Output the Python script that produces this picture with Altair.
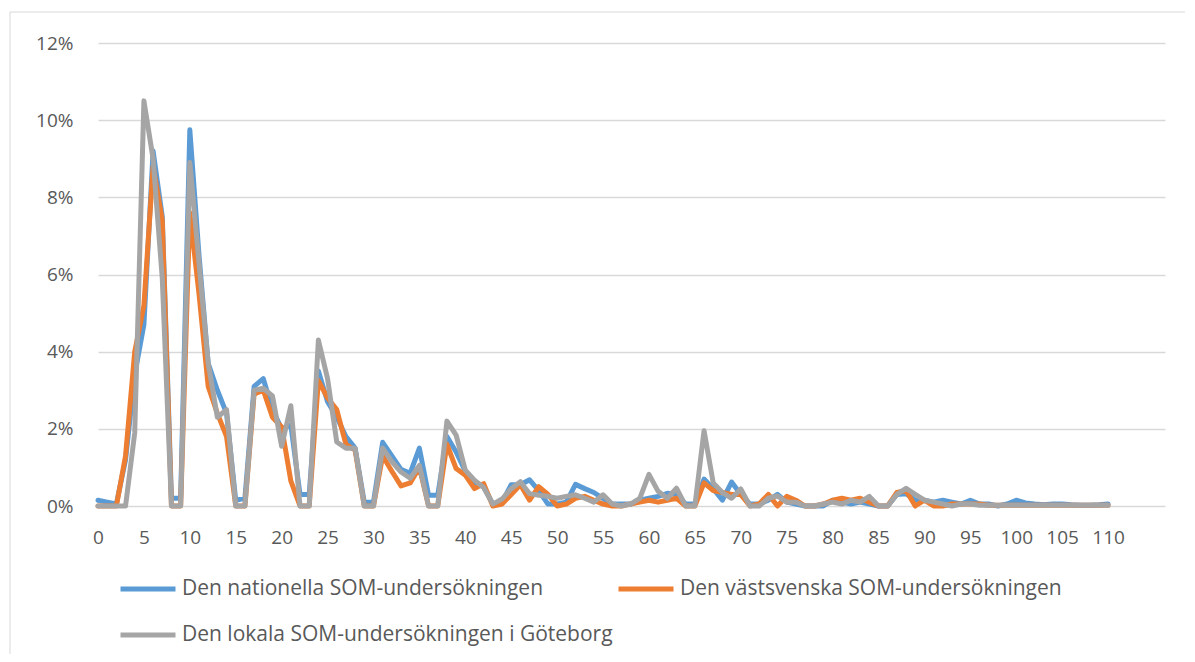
import altair as alt
import pandas as pd

series_names = [
    "Den nationella SOM-undersökningen",
    "Den västsvenska SOM-undersökningen",
    "Den lokala SOM-undersökningen i Göteborg",
]
series_colors = ["#5B9BD5", "#ED7D31", "#A5A5A5"]

x_values = list(range(0, 111))
x_tick_values = list(range(0, 111, 5))
y_tick_values = [0, 0.02, 0.04, 0.06, 0.08, 0.10, 0.12]

# percent values
national = [
    0.15, 0.1, 0.05, 1.2, 3.4, 4.7, 9.2, 7.5, 0.2, 0.2,
    9.75, 6.5, 3.7, 3.0, 2.4, 0.15, 0.2, 3.1, 3.3, 2.5,
    2.0, 2.1, 0.3, 0.3, 3.5, 2.7, 2.3, 1.8, 1.5, 0.1,
    0.1, 1.65, 1.3, 0.95, 0.85, 1.5, 0.28, 0.28, 1.8, 1.4,
    0.9, 0.6, 0.5, 0.05, 0.1, 0.55, 0.55, 0.68, 0.4, 0.05,
    0.05, 0.1, 0.56, 0.45, 0.35, 0.2, 0.05, 0.05, 0.05, 0.15,
    0.2, 0.25, 0.33, 0.3, 0.05, 0.05, 0.7, 0.45, 0.15, 0.62,
    0.3, 0.05, 0.05, 0.15, 0.3, 0.1, 0.05, 0.0, 0.0, 0.0,
    0.15, 0.1, 0.05, 0.1, 0.05, 0.0, 0.0, 0.3, 0.32, 0.15,
    0.15, 0.1, 0.15, 0.1, 0.05, 0.15, 0.05, 0.05, 0.0, 0.05,
    0.15, 0.08, 0.05, 0.03, 0.05, 0.05, 0.03, 0.02, 0.02, 0.03,
    0.05,
]
vastsvenska = [
    0.0, 0.0, 0.0, 1.3, 4.0, 5.2, 8.8, 7.4, 0.0, 0.0,
    7.6, 5.5, 3.1, 2.4, 1.8, 0.0, 0.0, 2.9, 3.0, 2.3,
    2.05, 0.65, 0.0, 0.0, 3.25, 2.8, 2.5, 1.6, 1.45, 0.0,
    0.0, 1.3, 0.9, 0.52, 0.6, 1.0, 0.0, 0.0, 1.6, 0.97,
    0.8, 0.45, 0.58, 0.0, 0.05, 0.3, 0.55, 0.15, 0.5, 0.3,
    0.0, 0.05, 0.2, 0.25, 0.15, 0.05, 0.0, 0.0, 0.05, 0.1,
    0.15, 0.1, 0.15, 0.2, 0.0, 0.0, 0.6, 0.4, 0.35, 0.3,
    0.3, 0.0, 0.05, 0.3, 0.0, 0.25, 0.15, 0.0, 0.0, 0.05,
    0.15, 0.2, 0.15, 0.2, 0.1, 0.0, 0.0, 0.35, 0.4, 0.0,
    0.15, 0.0, 0.0, 0.05, 0.05, 0.05, 0.05, 0.02, 0.02, 0.02,
    0.02, 0.02, 0.02, 0.02, 0.02, 0.02, 0.02, 0.02, 0.02, 0.02,
    0.02,
]
goteborg = [
    0.0, 0.0, 0.0, 0.0, 1.9, 10.5, 9.0, 5.9, 0.0, 0.0,
    8.9, 6.3, 3.7, 2.3, 2.5, 0.0, 0.0, 3.0, 3.05, 2.85,
    1.55, 2.6, 0.0, 0.0, 4.3, 3.3, 1.66, 1.5, 1.5, 0.0,
    0.0, 1.5, 1.15, 0.88, 0.72, 1.05, 0.0, 0.0, 2.2, 1.84,
    0.93, 0.67, 0.48, 0.05, 0.18, 0.45, 0.63, 0.32, 0.28, 0.25,
    0.2, 0.25, 0.29, 0.2, 0.1, 0.29, 0.05, 0.0, 0.05, 0.2,
    0.82, 0.38, 0.2, 0.46, 0.0, 0.0, 1.95, 0.6, 0.35, 0.2,
    0.44, 0.0, 0.0, 0.2, 0.26, 0.1, 0.1, 0.0, 0.0, 0.05,
    0.1, 0.05, 0.15, 0.1, 0.25, 0.0, 0.0, 0.3, 0.46, 0.3,
    0.15, 0.1, 0.05, 0.0, 0.05, 0.05, 0.02, 0.02, 0.02, 0.02,
    0.02, 0.02, 0.02, 0.02, 0.02, 0.02, 0.02, 0.02, 0.02, 0.02,
    0.02,
]

rows = []
for name, vals in zip(series_names, [national, vastsvenska, goteborg]):
    for x, v in zip(x_values, vals):
        rows.append({"x": x, "value": v / 100.0, "series": name})
df = pd.DataFrame(rows)

FONT = "Open Sans"
TXT = "#595959"
GRID = "#D9D9D9"

lines = alt.Chart(df).mark_line(strokeWidth=5, strokeJoin="round", strokeCap="round").encode(
    x=alt.X(
        "x:Q",
        scale=alt.Scale(domain=[0, 116.2], nice=False, zero=False),
        axis=alt.Axis(
            values=x_tick_values, format="d", title=None, grid=False, ticks=False,
            domain=False, labelPadding=22, labelFontSize=19, labelColor=TXT,
            labelFont=FONT, labelFlush=False,
        ),
    ),
    y=alt.Y(
        "value:Q",
        scale=alt.Scale(domain=[0, 0.12], nice=False),
        axis=alt.Axis(
            values=y_tick_values, format=".0%", title=None, grid=True, gridColor=GRID,
            gridWidth=1.5, ticks=False, domain=False, labelPadding=25, labelFontSize=19,
            labelColor=TXT, labelFont=FONT,
        ),
    ),
    color=alt.Color(
        "series:N",
        scale=alt.Scale(domain=series_names, range=series_colors),
        sort=series_names,
        legend=alt.Legend(
            title=None, orient="none", legendX=20, legendY=516, columns=2,
            direction="horizontal", columnPadding=-5, rowPadding=6,
            symbolType="stroke", symbolSize=3025, symbolStrokeWidth=5, labelOffset=4,
            labelFontSize=21, labelFont=FONT, labelColor=TXT, labelLimit=600,
        ),
    ),
    order=alt.Order("x:Q"),
)

border = alt.Chart(pd.DataFrame({"k": [0]})).mark_rule(color=GRID, strokeWidth=1).encode(
    x=alt.value(-88), x2=alt.value(1092), y=alt.value(-31)
)
border_left = alt.Chart(pd.DataFrame({"k": [0]})).mark_rule(color=GRID, strokeWidth=1).encode(
    x=alt.value(-88), y=alt.value(-31), y2=alt.value(620)
)

chart = alt.layer(border, border_left, lines).properties(
    width=1067,
    height=463,
    autosize=alt.AutoSizeParams(type="none"),
    padding={"left": 90, "top": 35, "right": 20, "bottom": 148},
).configure_view(stroke=None)

chart.save("out.html", embed_options={"renderer": "svg", "actions": False})
